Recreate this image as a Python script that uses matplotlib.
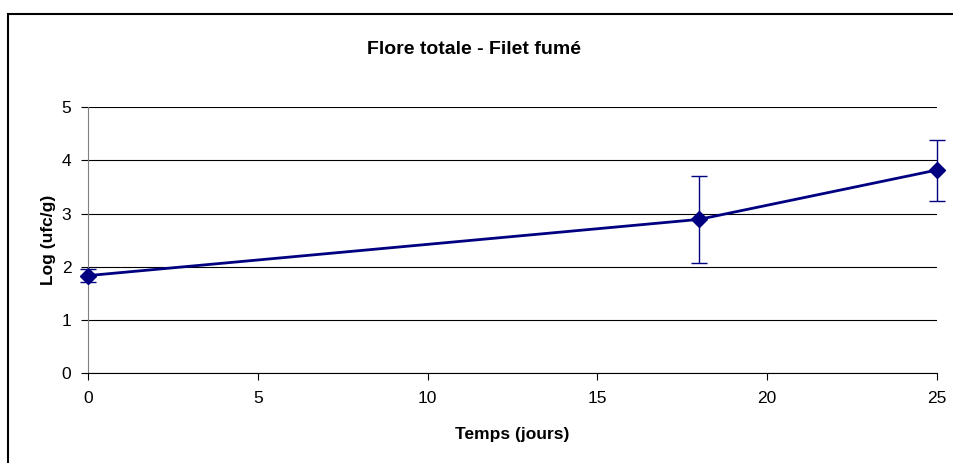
from matplotlib import pyplot as plt
from matplotlib.patches import Rectangle

plt.rcParams['font.family'] = ['Liberation Sans', 'DejaVu Sans']

days = [0, 18, 25]
log_ufc = [1.83, 2.89, 3.82]
err = [0.12, 0.815, 0.575]

fig = plt.figure(figsize=(9.54, 4.63), dpi=100, facecolor='white')
ax = fig.add_axes([0.0922, 0.195, 0.8898, 0.573])

# outer chart frame (cut off at right/bottom like the original)
fig.patches.append(Rectangle((8/954, -0.05), 1.1, 1 - 13.5/463 + 0.05,
                             transform=fig.transFigure, fill=False,
                             edgecolor='black', linewidth=1.5))

eb = ax.errorbar(days, log_ufc, yerr=err, color='#000080', lw=2, marker='D',
                 markersize=8, ecolor='#000080', elinewidth=1, capsize=6,
                 capthick=1, zorder=3)
for art in eb.get_children():
    art.set_clip_on(False)
eb.lines[0].set_clip_on(False)

ax.set_xlim(0, 25)
ax.set_ylim(0, 5)
ax.set_xticks([0, 5, 10, 15, 20, 25])
ax.set_yticks([0, 1, 2, 3, 4, 5])
ax.yaxis.grid(True, color='black', lw=0.8)
ax.set_axisbelow(True)
for s in ['top', 'right']:
    ax.spines[s].set_visible(False)
ax.spines['left'].set_color('#808080')
ax.spines['bottom'].set_color('black')
ax.tick_params(axis='both', direction='out', length=5, labelsize=12.5)
ax.tick_params(axis='x', pad=8)
ax.tick_params(axis='y', pad=7)

ax.set_xlabel('Temps (jours)', fontsize=12.5, fontweight='bold', labelpad=15)
ax.set_ylabel('Log (ufc/g)', fontsize=12.5, fontweight='bold', labelpad=4)
fig.text(0.497, 1 - 50/463, 'Flore totale - Filet fumé', ha='center', va='center',
         fontsize=14, fontweight='bold')

plt.savefig('out.png', dpi=100)
